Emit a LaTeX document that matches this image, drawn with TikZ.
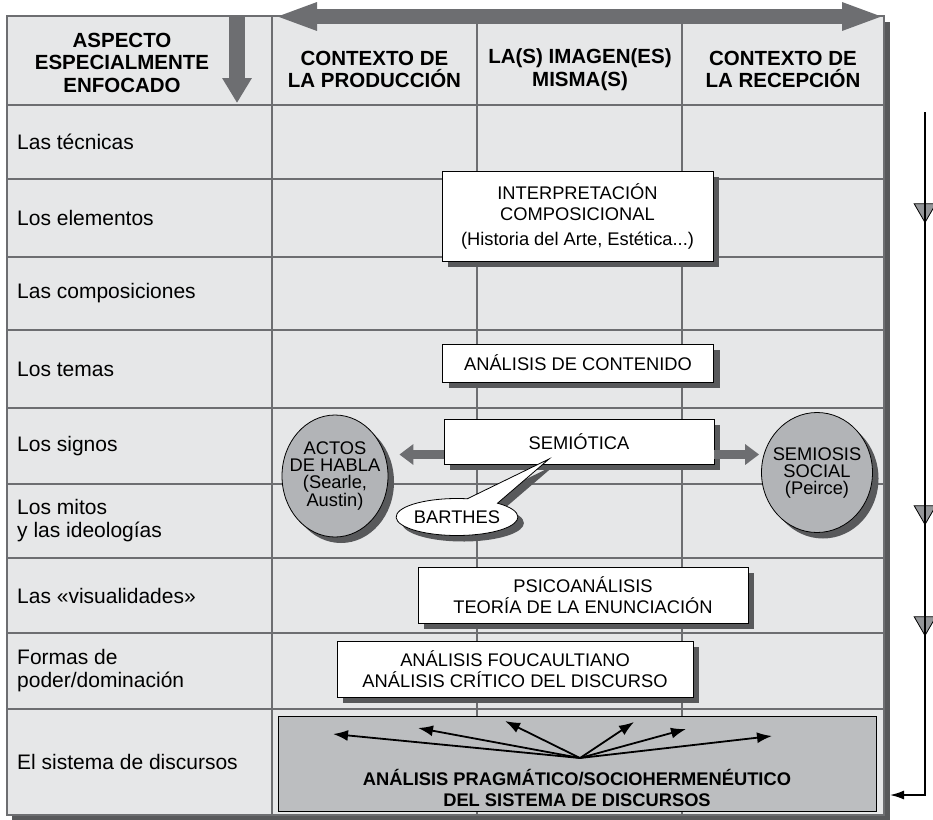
\documentclass[tikz,border=0pt]{standalone}
\usepackage{fontspec}
\setmainfont{Liberation Sans}
\usetikzlibrary{arrows.meta,shapes.geometric,shapes.callouts,shadows}
\definecolor{cellgray}{HTML}{E6E7E8}
\definecolor{linegray}{HTML}{6D6E71}
\definecolor{shadegray}{HTML}{58595B}
\definecolor{ovalgray}{HTML}{B2B4B7}
\definecolor{basegray}{HTML}{BCBEC0}
\definecolor{markgray}{HTML}{939598}
\begin{document}
\begin{tikzpicture}[x=1pt,y=-1pt,
  gridline/.style={draw=linegray,line width=1.2pt},
  rowlabel/.style={anchor=west,align=left,inner sep=0pt,font=\fontsize{21}{23}\selectfont},
  colhead/.style={align=center,inner sep=0pt,font=\fontsize{20.5}{22.5}\selectfont\bfseries},
  boxshade/.style={general shadow={fill=shadegray,shadow xshift=6pt,shadow yshift=-6pt}},
  method/.style={draw=black,fill=white,line width=0.8pt,align=center,inner sep=0pt,
    font=\fontsize{18.3}{21.5}\selectfont,boxshade},
  school/.style={ellipse,draw=black,fill=ovalgray,line width=0.8pt,inner xsep=-8pt,inner ysep=0pt,
    align=center,font=\fontsize{18.3}{17}\selectfont,boxshade},
  fatarrow/.style={draw=linegray,line width=9pt,-{Triangle[length=14pt,width=20pt]}},
  fanarrow/.style={line width=1.8pt,-{Latex[length=15pt,width=11pt]}},
  flowmark/.style={regular polygon,regular polygon sides=3,shape border rotate=180,draw=black,
    fill=markgray,line width=0.8pt,minimum size=25pt,inner sep=0pt}]

\useasboundingbox (0,0) rectangle (933,819);

\fill[shadegray] (12,22) rectangle (890,820);
\fill[cellgray] (7,16) rectangle (884,815);
\foreach \y in {105,179,257,330,408,484,558,633,709}
  \draw[gridline] (7,\y) -- (884,\y);
\foreach \x in {272,477,682}
  \draw[gridline] (\x,16) -- (\x,815);
\draw[gridline] (7,16) rectangle (884,815);

\coordinate (vtop) at (237,16);
\coordinate (vtip) at (237,103);
\draw[draw=linegray,line width=16pt,-{Triangle[length=25pt,width=28pt]}] (vtop) -- (vtip);
\coordinate (hleft) at (274,16.5);
\coordinate (hright) at (885,16.5);
\draw[draw=linegray,line width=15pt,{Triangle[length=43pt,width=25pt]}-{Triangle[length=43pt,width=25pt]}] (hleft) -- (hright);

\node[colhead] (aspecto) at (122,62.5) {ASPECTO\\ESPECIALMENTE\\ENFOCADO};
\node[colhead] (produccion) at (374.5,69.5) {CONTEXTO DE\\LA PRODUCCIÓN};
\node[colhead] (imagen) at (580,69.5) {LA(S) IMAGEN(ES)\\MISMA(S)};
\node[colhead] (recepcion) at (783,69.5) {CONTEXTO DE\\LA RECEPCIÓN};

\node[rowlabel] (tecnicas) at (17,142) {Las técnicas};
\node[rowlabel] (elementos) at (17,218) {Los elementos};
\node[rowlabel] (composiciones) at (17,293.5) {Las composiciones};
\node[rowlabel] (temas) at (17,369) {Los temas};
\node[rowlabel] (signos) at (17,446) {Los signos};
\node[rowlabel] (mitos) at (17,521) {Los mitos\\y las ideologías};
\node[rowlabel] (visualidades) at (17,595.5) {Las «visualidades»};
\node[rowlabel] (formas) at (17,671) {Formas de\\poder/dominación};
\node[rowlabel] (sistema) at (17,762) {El sistema de discursos};

\node[method,minimum width=271pt,minimum height=90pt] (interp) at (577.5,216)
  {INTERPRETACIÓN\\COMPOSICIONAL\\[3pt](Historia del Arte, Estética...)};
\node[method,minimum width=271pt,minimum height=38pt] (contenido) at (578,363) {ANÁLISIS DE CONTENIDO};
\node[method,minimum width=270pt,minimum height=45pt] (semiotica) at (579,441.5) {SEMIÓTICA};
\node[method,minimum width=330pt,minimum height=56pt] (psico) at (583,595)
  {PSICOANÁLISIS\\TEORÍA DE LA ENUNCIACIÓN};
\node[method,minimum width=356pt,minimum height=56pt] (foucault) at (515,669)
  {ANÁLISIS FOUCAULTIANO\\ANÁLISIS CRÍTICO DEL DISCURSO};

\node[school,minimum width=106pt,minimum height=122pt] (actos) at (335,476)
  {ACTOS\\DE HABLA\\(Searle,\\Austin)};
\node[school,inner xsep=-6pt,minimum width=111pt,minimum height=120pt] (semiosis) at (817,472.5)
  {SEMIOSIS\\SOCIAL\\(Peirce)};
\draw[fatarrow,shorten >=11pt] ([yshift=-13pt]semiotica.west) -- ([yshift=-13pt]semiotica.west -| actos.east);
\draw[fatarrow,shorten >=2pt] ([yshift=-13pt]semiotica.east) -- ([yshift=-13pt]semiotica.east -| semiosis.west);

\coordinate (bpoint) at (549,459);
\node[ellipse callout,draw=black,fill=white,line width=0.8pt,inner sep=0pt,boxshade,
  minimum width=120pt,minimum height=37pt,callout absolute pointer=(bpoint),callout pointer arc=32,
  font=\fontsize{18.3}{21}\selectfont] (barthes) at (457,517) {BARTHES};

\node[draw=black,fill=basegray,line width=0.8pt,minimum width=598pt,minimum height=95pt] (pragm) at (577,763.5) {};
\node[align=center,inner sep=0pt,font=\fontsize{18.3}{21}\selectfont\bfseries] (pragmtxt) at (577,787.5)
  {ANÁLISIS PRAGMÁTICO/SOCIOHERMENÉUTICO\\DEL SISTEMA DE DISCURSOS};
\coordinate (fan) at (580,758);
\foreach \i/\x/\y in {1/333/734,2/418/728,3/505/721,4/634/722,5/686/729,6/772/736}{
  \coordinate (f\i) at (\x,\y);
  \draw[fanarrow] (fan) -- (f\i);
}

\node[flowmark] (m1) at (925,210) {};
\node[flowmark] (m2) at (925,512) {};
\node[flowmark] (m3) at (925,623) {};
\coordinate (ftop) at (925,112);
\coordinate (fbot) at (925,795);
\coordinate (fend) at (890,795);
\draw[line width=1.5pt,-{Latex[length=14pt,width=9pt]}] (ftop) -- (fbot) -- (fend);

\end{tikzpicture}
\end{document}
